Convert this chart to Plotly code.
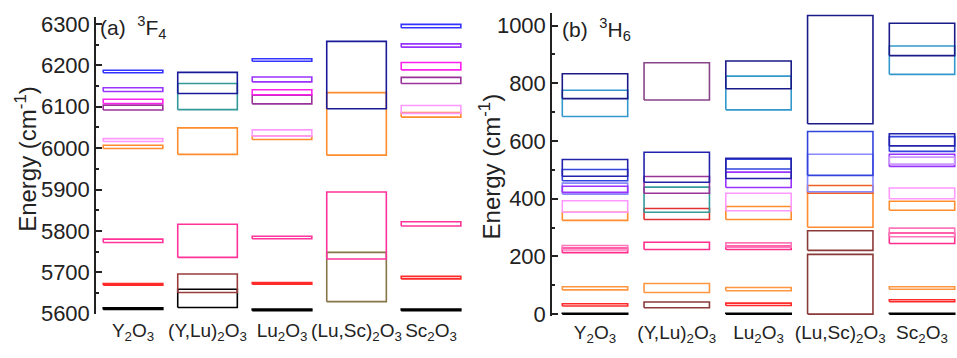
import plotly.graph_objects as go

# Host crystals (x categories)
HOSTS = [
    "Y<sub>2</sub>O<sub>3</sub>",
    "(Y,Lu)<sub>2</sub>O<sub>3</sub>",
    "Lu<sub>2</sub>O<sub>3</sub>",
    "(Lu,Sc)<sub>2</sub>O<sub>3</sub>",
    "Sc<sub>2</sub>O<sub>3</sub>",
]

# ---- 3F4 Stark levels: [low, high] energy (cm-1) per host, None = not present ----
F4_BLACK = [[5610, 5614], [5615, 5659], [5607, 5611], None, [5607, 5611]]
F4_OLIVE = [None, None, None, [5629, 5748], None]
F4_RED = [[5669, 5673], None, [5671, 5675], None, [5684, 5690]]
F4_BROWN = [None, [5651, 5696], None, None, None]
F4_PINK = [[5772, 5780], [5736, 5816], [5781, 5787], [5732, 5894], [5812, 5822]]
F4_ORANGE = [[5999, 6007], [5985, 6049], [6021, 6029], [5983, 6134], [6075, 6086]]
F4_LIGHTPINK = [[6016, 6023], None, [6029, 6044], None, [6084, 6103]]
F4_PLUM = [[6092, 6104], None, [6107, 6128], None, [6156, 6171]]
F4_MAGENTA = [[6108, 6118], None, [6129, 6141], None, [6189, 6207]]
F4_VIOLET = [[6137, 6146], None, [6160, 6172], None, [6244, 6252]]
F4_BLUE = [[6182, 6188], None, [6210, 6216], None, [6291, 6299]]
F4_TEAL = [None, [6093, 6156], None, None, None]
F4_NAVY = [None, [6132, 6183], None, [6095, 6258], None]

# ---- 3H6 Stark levels ----
H6_BLACK = [[0, 3], None, [0, 3], None, [0, 3]]
H6_BROWN = [None, [22, 42], None, [0, 207], None]
H6_BROWN2 = [None, None, None, [221, 289], None]
H6_RED = [[28, 36], None, [30, 38], None, [43, 50]]
H6_ORANGE = [[84, 95], [75, 106], [81, 92], None, [86, 95]]
H6_PINK = [[213, 229], [224, 249], [224, 236], None, [245, 281]]
H6_ROSE = [[222, 238], None, [232, 247], None, [268, 298]]
H6_ORANGE2 = [[325, 353], None, [328, 373], [301, 419], [360, 391]]
H6_DARKORANGE = [None, None, None, [419, 446], None]
H6_LIGHTPINK = [[353, 393], None, [358, 419], None, [400, 437]]
H6_RED2 = [None, [328, 366], None, None, None]
H6_TEAL = [None, [353, 440], None, None, None]
H6_MAUVE = [None, [419, 477], None, None, None]
H6_PERIWINKLE = [[416, 454], None, None, [424, 554], None]
H6_VIOLET = [[422, 443], None, [439, 492], None, [512, 554]]
H6_LILAC = [None, None, None, None, [520, 544]]
H6_BLUE = [[462, 501], None, [503, 537], [481, 633], [564, 615]]
H6_ROYAL = [[478, 536], [457, 561], [470, 540], None, [583, 625]]
H6_SKY = [[685, 776], None, [708, 825], None, [831, 929]]
H6_NAVY = [[747, 833], None, [781, 877], [660, 1035], [896, 1008]]
H6_PURPLE = [None, [742, 871], None, None, None]

F4_SERIES = [
    (F4_BLACK, "#000000"), (F4_OLIVE, "#857547"), (F4_RED, "#ff2a2a"),
    (F4_BROWN, "#9a3c3c"), (F4_PINK, "#ff3399"), (F4_ORANGE, "#ff8c2e"),
    (F4_LIGHTPINK, "#ff99ff"), (F4_PLUM, "#993399"), (F4_MAGENTA, "#ff22ee"),
    (F4_VIOLET, "#9933ff"), (F4_BLUE, "#3333ff"), (F4_TEAL, "#339999"),
    (F4_NAVY, "#1a1a99"),
]
H6_SERIES = [
    (H6_BLACK, "#000000"), (H6_BROWN, "#8b3a3a"), (H6_BROWN2, "#8b3a3a"),
    (H6_RED, "#ff2a2a"), (H6_ORANGE, "#ff9640"), (H6_PINK, "#ff2d8c"),
    (H6_ROSE, "#ff77bb"), (H6_ORANGE2, "#ff8c2e"), (H6_DARKORANGE, "#f06020"),
    (H6_LIGHTPINK, "#ff99ff"), (H6_RED2, "#dd3333"), (H6_TEAL, "#339999"),
    (H6_MAUVE, "#993399"), (H6_PERIWINKLE, "#8888ff"), (H6_VIOLET, "#9933ff"),
    (H6_LILAC, "#cc99ff"), (H6_BLUE, "#3344dd"), (H6_ROYAL, "#2222aa"),
    (H6_SKY, "#3399cc"), (H6_NAVY, "#1a1a88"), (H6_PURPLE, "#884488"),
]

HALF = 0.4  # half width of each level box in category units

fig = go.Figure()


def add_levels(levels, color, xa, ya):
    xs, ys = [], []
    for i, span in enumerate(levels):
        if span is None:
            continue
        lo, hi = span
        xs += [i - HALF, i + HALF, i + HALF, i - HALF, i - HALF, None]
        ys += [lo, lo, hi, hi, lo, None]
    fig.add_trace(go.Scatter(
        x=xs, y=ys, mode="lines", line=dict(color=color, width=1.6),
        xaxis=xa, yaxis=ya, hoverinfo="skip", showlegend=False,
    ))


for levels, color in F4_SERIES:
    add_levels(levels, color, "x", "y")
for levels, color in H6_SERIES:
    add_levels(levels, color, "x2", "y2")

W, H = 957, 358
FONT = "Liberation Sans, Arial, sans-serif"

xcommon = dict(
    tickmode="array", tickvals=list(range(len(HOSTS))), ticktext=HOSTS,
    showline=False, ticks="", showgrid=False, zeroline=False,
    ticklabelstandoff=3,
    tickfont=dict(size=19, color="#222"),
)
ycommon = dict(
    showline=True, linecolor="#222", linewidth=1.5, ticks="inside",
    ticklen=6, tickwidth=1.5, tickcolor="#222", showgrid=False, zeroline=False,
    tickfont=dict(size=22, color="#222"),
)

fig.update_layout(
    width=W, height=H, margin=dict(l=0, r=0, t=0, b=0),
    paper_bgcolor="white", plot_bgcolor="white",
    font=dict(family=FONT, color="#222"),
    xaxis=dict(domain=[96 / W, 465 / W], range=[-0.497, 4.456], anchor="y", **xcommon),
    yaxis=dict(domain=[1 - 325 / H, 1 - 13 / H], range=[5600, 6316], anchor="x",
               tickvals=[5600, 5700, 5800, 5900, 6000, 6100, 6200, 6300],
               minor=dict(ticks="inside", ticklen=3, dtick=50, tickcolor="#222"),
               **ycommon),
    xaxis2=dict(domain=[552 / W, 1.0], range=[-0.526, 4.428], anchor="y2", **xcommon),
    yaxis2=dict(domain=[1 - 327 / H, 1 - 8 / H], range=[-5, 1045], anchor="x2",
                tickvals=[0, 200, 400, 600, 800, 1000],
                minor=dict(ticks="inside", ticklen=3, dtick=100, tickcolor="#222"),
                **ycommon),
    annotations=[
        dict(text="(a)&nbsp;&nbsp;<sup>3</sup>F<sub>4</sub>", x=98 / W, y=1 - 24 / H,
             xref="paper", yref="paper", xanchor="left", yanchor="middle",
             showarrow=False, font=dict(size=21)),
        dict(text="(b)&nbsp;&nbsp;<sup>3</sup>H<sub>6</sub>", x=560 / W, y=1 - 26 / H,
             xref="paper", yref="paper", xanchor="left", yanchor="middle",
             showarrow=False, font=dict(size=21)),
        dict(text="Energy (cm<sup>-1</sup>)", x=26 / W, y=1 - 162 / H,
             xref="paper", yref="paper", xanchor="center", yanchor="middle",
             textangle=-90, showarrow=False, font=dict(size=24)),
        dict(text="Energy (cm<sup>-1</sup>)", x=490 / W, y=1 - 170 / H,
             xref="paper", yref="paper", xanchor="center", yanchor="middle",
             textangle=-90, showarrow=False, font=dict(size=24)),
    ],
)

fig.write_html("out.html")
